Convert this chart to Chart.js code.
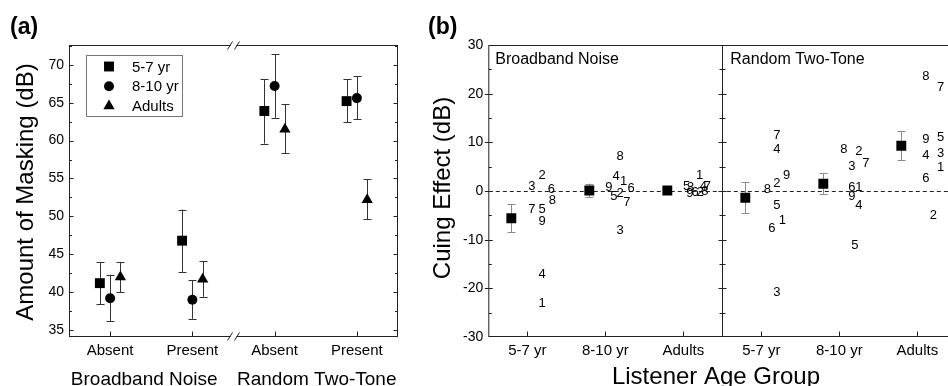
<!DOCTYPE html>
<html>
<head>
<meta charset="utf-8">
<script src="https://cdn.jsdelivr.net/npm/chart.js@4.4.1/dist/chart.umd.min.js"></script>
<style>
  html, body { margin: 0; padding: 0; background: #fff; overflow: hidden; }
  #chartA { position: absolute; left: 0; top: 0; }
  #chartB { position: absolute; left: 420px; top: 0; }
</style>
</head>
<body>
<canvas id="chartA" width="420" height="386"></canvas>
<canvas id="chartB" width="550" height="386"></canvas>
<script>
// ---- panel (a): amount of masking ----
const conditionLabels = ['Absent', 'Present', 'Absent', 'Present'];
const maskerLabels = ['Broadband Noise', 'Random Two-Tone'];
const ageGroups = ['5-7 yr', '8-10 yr', 'Adults'];

const masking57 = [41.2, 46.8, 63.9, 65.2];
const masking57Lo = [38.4, 42.7, 59.6, 62.4];
const masking57Hi = [44.0, 50.9, 68.1, 68.1];
const masking810 = [39.2, 39.0, 67.2, 65.6];
const masking810Lo = [36.2, 36.5, 63.0, 62.8];
const masking810Hi = [42.3, 41.6, 71.4, 68.5];
const maskingAdult = [42.0, 41.7, 61.5, 52.2];
const maskingAdultLo = [40.0, 39.4, 58.3, 49.6];
const maskingAdultHi = [44.0, 44.1, 64.8, 54.9];
const maskingTicks = [35, 40, 45, 50, 55, 60, 65, 70];

// ---- panel (b): cuing effect ----
const groupLabels = ['5-7 yr', '8-10 yr', 'Adults', '5-7 yr', '8-10 yr', 'Adults'];
const panelTitles = ['Broadband Noise', 'Random Two-Tone'];
const cuingMean = [-5.6, 0.1, 0.1, -1.4, 1.5, 9.3];
const cuingErr = [2.9, 1.4, 0.3, 3.2, 2.1, 2.95];
const cuingTicks = [-30, -20, -10, 0, 10, 20, 30];
const listenerIds = ['1', '2', '3', '4', '5', '6', '7', '8', '9'];

// individual listeners 1..9 in each group
const cuingBbn57 = [-23.1, 3.3, 0.9, -17.1, -3.8, 0.35, -3.8, -1.85, -6.2];
const cuingBbn810 = [2.05, -0.48, -8.15, 2.94, -1.16, 0.55, -2.4, 7.05, 0.75];
const cuingBbnAdult = [3.2, -0.27, 0.76, 1.0, 1.0, -0.2, 0.9, -0.14, -0.48];
const cuingRtt57 = [-5.96, 1.5, -20.9, 8.56, -3.0, -7.6, 11.4, 0.27, 3.15];
const cuingRtt810 = [0.75, 8.08, 5.14, -3.0, -11.2, 0.68, 5.69, 8.56, -1.03];
const cuingRttAdult = [4.8, -5.0, 7.7, 7.26, 11.1, 2.5, 21.2, 23.6, 10.6];

// where each listener's number sits to the right of the group (category units)
const jitterBbn57 = [0.19, 0.19, 0.06, 0.19, 0.19, 0.31, 0.06, 0.32, 0.19];
const jitterBbn810 = [0.235, 0.19, 0.19, 0.14, 0.11, 0.33, 0.277, 0.19, 0.046];
const jitterBbnAdult = [0.21, 0.214, 0.095, 0.257, 0.044, 0.15, 0.308, 0.275, 0.085];
const jitterRtt57 = [0.27, 0.2, 0.2, 0.2, 0.2, 0.137, 0.2, 0.077, 0.326];
const jitterRtt810 = [0.25, 0.25, 0.16, 0.25, 0.2, 0.16, 0.34, 0.06, 0.16];
const jitterRttAdult = [0.3, 0.205, 0.3, 0.11, 0.3, 0.11, 0.3, 0.11, 0.11];

const FONT = "'Liberation Sans', Arial, Helvetica, sans-serif";
Chart.defaults.font.family = FONT;
Chart.defaults.color = '#000';

function marker(ctx, style, x, y, r) {
  ctx.beginPath();
  if (style === 'rect') {
    const h = r * Math.SQRT1_2;
    ctx.rect(x - h, y - h, 2 * h, 2 * h);
  } else if (style === 'triangle') {
    ctx.moveTo(x, y - r);
    ctx.lineTo(x + r * 0.866, y + r / 2);
    ctx.lineTo(x - r * 0.866, y + r / 2);
    ctx.closePath();
  } else {
    ctx.arc(x, y, r, 0, Math.PI * 2);
  }
  ctx.fill();
}

function line(ctx, x1, y1, x2, y2) {
  ctx.beginPath();
  ctx.moveTo(x1, y1);
  ctx.lineTo(x2, y2);
  ctx.stroke();
}

function errorBars(chart, color, cap) {
  const ctx = chart.ctx;
  const ys = chart.scales.y;
  ctx.save();
  ctx.strokeStyle = color;
  ctx.lineWidth = 1;
  chart.data.datasets.forEach((ds, d) => {
    if (!ds.errLo) return;
    chart.getDatasetMeta(d).data.forEach((pt, i) => {
      const x = Math.round(pt.x) + 0.5;
      const y1 = ys.getPixelForValue(ds.errLo[i]);
      const y2 = ys.getPixelForValue(ds.errHi[i]);
      line(ctx, x, y1, x, y2);
      line(ctx, x - cap, Math.round(y1) + 0.5, x + cap, Math.round(y1) + 0.5);
      line(ctx, x - cap, Math.round(y2) + 0.5, x + cap, Math.round(y2) + 0.5);
    });
  });
  ctx.restore();
}

const seriesA = [
  { label: ageGroups[0], data: masking57, lo: masking57Lo, hi: masking57Hi, style: 'rect', r: 7, shift: -0.125 },
  { label: ageGroups[1], data: masking810, lo: masking810Lo, hi: masking810Hi, style: 'circle', r: 5, shift: 0 },
  { label: ageGroups[2], data: maskingAdult, lo: maskingAdultLo, hi: maskingAdultHi, style: 'triangle', r: 6.5, shift: 0.125 }
];

const panelA = {
  id: 'panelA',
  beforeDatasetsDraw(chart) {
    const { ctx, chartArea: a, scales: { x, y } } = chart;
    const L = a.left + 0.5, R = a.right - 0.5, T = a.top + 0.5, B = a.bottom - 0.5;
    ctx.save();
    ctx.strokeStyle = '#222';
    ctx.lineWidth = 1;
    ctx.strokeRect(L, T, R - L, B - T);
    maskingTicks.forEach(v => {
      const py = Math.round(y.getPixelForValue(v)) + 0.5;
      line(ctx, L, py, L + 4, py);
      line(ctx, R, py, R - 4, py);
      const pm = Math.round(y.getPixelForValue(v + 2.5)) + 0.5;
      if (v + 2.5 < y.max) { line(ctx, L, pm, L + 2.5, pm); line(ctx, R, pm, R - 2.5, pm); }
    });
    x.ticks.forEach(t => {
      const px = Math.round(x.getPixelForValue(t.value)) + 0.5;
      line(ctx, px, B, px, B - 5);
    });
    // axis break between the two maskers
    const bx = x.getPixelForValue(2.5);
    [T, B].forEach(by => {
      ctx.fillStyle = '#fff';
      ctx.fillRect(bx - 3, by - 2, 6, 4);
      line(ctx, bx - 6, by + 4, bx - 1, by - 4);
      line(ctx, bx + 1, by + 4, bx + 6, by - 4);
    });
    ctx.restore();
    errorBars(chart, '#333', 4);
  },
  afterDraw(chart) {
    const { ctx, scales: { x } } = chart;
    ctx.save();
    ctx.fillStyle = '#000';
    ctx.font = 'bold 23px ' + FONT;
    ctx.textBaseline = 'alphabetic';
    ctx.fillText('(a)', 10, 34);
    ctx.font = '24px ' + FONT;
    ctx.textAlign = 'center';
    ctx.textBaseline = 'middle';
    ctx.save();
    ctx.translate(26, 192);
    ctx.rotate(-Math.PI / 2);
    ctx.fillText('Amount of Masking (dB)', 0, 0);
    ctx.restore();
    ctx.font = '19px ' + FONT;
    ctx.textBaseline = 'alphabetic';
    ctx.fillText(maskerLabels[0], (x.getPixelForValue(1.5) - 7), 385);
    ctx.fillText(maskerLabels[1], (x.getPixelForValue(3.5) + 1), 385);
    // legend
    ctx.strokeStyle = '#777';
    ctx.lineWidth = 1;
    ctx.strokeRect(86.5, 55.5, 96, 61);
    ctx.font = '15px ' + FONT;
    ctx.textAlign = 'left';
    ctx.textBaseline = 'middle';
    seriesA.forEach((s, i) => {
      const yy = 66.5 + i * 19.7;
      marker(ctx, s.style, 109, yy, s.r);
      ctx.fillText(s.label, 132, yy + 1);
    });
    ctx.restore();
  }
};

new Chart(document.getElementById('chartA'), {
  type: 'scatter',
  data: {
    datasets: seriesA.map(s => ({
      label: s.label,
      data: s.data.map((v, i) => ({ x: i + 1 + s.shift, y: v })),
      errLo: s.lo,
      errHi: s.hi,
      pointStyle: s.style,
      pointRadius: s.r,
      pointHoverRadius: s.r,
      backgroundColor: '#000',
      borderColor: '#000',
      borderWidth: 0
    }))
  },
  options: {
    responsive: false,
    animation: false,
    events: [],
    layout: { padding: { left: 19, right: 22, top: 45, bottom: 9 } },
    plugins: { legend: { display: false }, tooltip: { enabled: false } },
    scales: {
      x: {
        type: 'linear', min: 0.5, max: 4.5,
        afterBuildTicks: s => { s.ticks = conditionLabels.map((_, i) => ({ value: i + 1 })); },
        afterFit: s => { s.height = 40; },
        grid: { display: false, drawTicks: false }, border: { display: false },
        ticks: { padding: 5, font: { size: 15 }, callback: v => conditionLabels[Math.round(v) - 1] }
      },
      y: {
        min: 34.1, max: 72.6,
        afterBuildTicks: s => { s.ticks = maskingTicks.map(v => ({ value: v })); },
        afterFit: s => { s.width = 50; },
        grid: { display: false, drawTicks: false }, border: { display: false },
        ticks: { padding: 5, font: { size: 14 } }
      }
    }
  },
  plugins: [panelA]
});

// ---- panel (b) ----
const groupsB = [cuingBbn57, cuingBbn810, cuingBbnAdult, cuingRtt57, cuingRtt810, cuingRttAdult];
const jitterB = [jitterBbn57, jitterBbn810, jitterBbnAdult, jitterRtt57, jitterRtt810, jitterRttAdult];

const panelB = {
  id: 'panelB',
  beforeDatasetsDraw(chart) {
    const { ctx, chartArea: a, scales: { x, y } } = chart;
    const L = a.left + 0.5, R = a.right - 0.5, T = a.top + 0.5, B = a.bottom - 0.5;
    const D = Math.round(x.getPixelForValue(3.5)) + 0.5;
    ctx.save();
    ctx.strokeStyle = '#222';
    ctx.lineWidth = 1;
    ctx.strokeRect(L, T, R - L, B - T);
    line(ctx, D, T, D, B);
    cuingTicks.forEach(v => {
      const py = Math.round(y.getPixelForValue(v)) + 0.5;
      if (v > y.min && v < y.max) {
        line(ctx, L - 4, py, L + 4, py);
        line(ctx, D - 4, py, D + 4, py);
      }
      if (v + 5 < y.max) {
        const pm = Math.round(y.getPixelForValue(v + 5)) + 0.5;
        line(ctx, L, pm, L + 3, pm);
        line(ctx, D - 3, pm, D + 3, pm);
      }
    });
    x.ticks.forEach(t => {
      const px = Math.round(x.getPixelForValue(t.value)) + 0.5;
      line(ctx, px, B, px, B - 5);
    });
    // zero reference
    const z = Math.round(y.getPixelForValue(0)) + 0.5;
    ctx.setLineDash([4, 3]);
    line(ctx, L, z, R, z);
    ctx.restore();
    errorBars(chart, '#8a8a8a', 4);
  },
  afterDatasetsDraw(chart) {
    const ctx = chart.ctx;
    ctx.save();
    ctx.fillStyle = '#000';
    ctx.font = '13px ' + FONT;
    ctx.textAlign = 'center';
    ctx.textBaseline = 'middle';
    chart.data.datasets.forEach((ds, d) => {
      if (!ds.ids) return;
      chart.getDatasetMeta(d).data.forEach((pt, i) => ctx.fillText(ds.ids[i], pt.x, pt.y));
    });
    ctx.restore();
  },
  afterDraw(chart) {
    const { ctx, chartArea: a, scales: { x } } = chart;
    ctx.save();
    ctx.fillStyle = '#000';
    ctx.font = 'bold 23px ' + FONT;
    ctx.fillText('(b)', 8, 34);
    ctx.font = '16px ' + FONT;
    ctx.textBaseline = 'middle';
    ctx.fillText(panelTitles[0], a.left + 7, 60);
    ctx.fillText(panelTitles[1], x.getPixelForValue(3.5) + 8, 60);
    ctx.font = '24px ' + FONT;
    ctx.textAlign = 'center';
    ctx.save();
    ctx.translate(23, 188);
    ctx.rotate(-Math.PI / 2);
    ctx.fillText('Cuing Effect (dB)', 0, 0);
    ctx.restore();
    ctx.textBaseline = 'alphabetic';
    ctx.fillText('Listener Age Group', 296, 384);
    ctx.restore();
  }
};

new Chart(document.getElementById('chartB'), {
  type: 'scatter',
  data: {
    datasets: [
      {
        label: 'mean',
        data: cuingMean.map((v, i) => ({ x: i + 1 - 0.205, y: v })),
        errLo: cuingMean.map((v, i) => v - cuingErr[i]),
        errHi: cuingMean.map((v, i) => v + cuingErr[i]),
        pointStyle: 'rect',
        pointRadius: 7,
        pointHoverRadius: 7,
        backgroundColor: '#000',
        borderWidth: 0
      },
      ...groupsB.map((vals, g) => ({
        label: groupLabels[g],
        ids: listenerIds,
        data: vals.map((v, k) => ({ x: g + 1 + jitterB[g][k], y: v })),
        pointRadius: 0,
        pointHoverRadius: 0
      }))
    ]
  },
  options: {
    responsive: false,
    animation: false,
    events: [],
    layout: { padding: { left: 28.3, right: 13.7, top: 45, bottom: 9 } },
    plugins: { legend: { display: false }, tooltip: { enabled: false } },
    scales: {
      x: {
        type: 'linear', min: 0.5, max: 6.5,
        afterBuildTicks: s => { s.ticks = groupLabels.map((_, i) => ({ value: i + 1 })); },
        afterFit: s => { s.height = 40; },
        grid: { display: false, drawTicks: false }, border: { display: false },
        ticks: { padding: 5, font: { size: 15 }, callback: v => groupLabels[Math.round(v) - 1] }
      },
      y: {
        min: -30, max: 30,
        afterBuildTicks: s => { s.ticks = cuingTicks.map(v => ({ value: v })); },
        afterFit: s => { s.width = 40; },
        grid: { display: false, drawTicks: false }, border: { display: false },
        ticks: { padding: 5, font: { size: 14 }, callback: v => String(v) }
      }
    }
  },
  plugins: [panelB]
});
</script>
</body>
</html>
